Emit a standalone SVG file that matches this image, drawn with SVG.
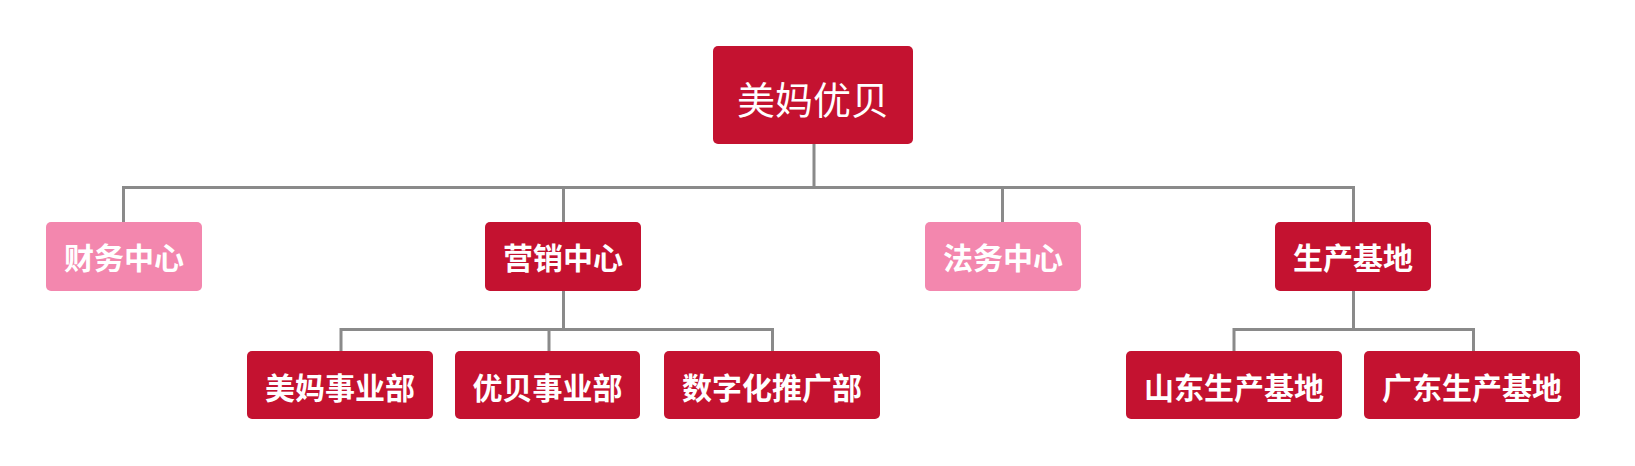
<svg xmlns="http://www.w3.org/2000/svg" width="1635" height="466" viewBox="0 0 1635 466">
<style>
.red{fill:#C41230}
.pink{fill:#F387AE}
.t{fill:#fff;font-family:"Noto Sans CJK SC","Noto Sans",sans-serif;text-anchor:middle;dominant-baseline:central}
.b{font-weight:700;font-size:30px}
.r{font-weight:400;font-size:38px}
.ln{fill:none;stroke:#8a8a8a;stroke-width:3}
</style>
<rect width="1635" height="466" fill="#fff"/>
<g id="connectors">
<path class="ln" d="M814 144V187.5M123.5 222V187.5H1353.5V222M563.5 187.5V222M1002.5 187.5V222"/>
<path class="ln" d="M563.5 291V329.5M341 351V329.5H772.5V351M549 329.5V351"/>
<path class="ln" d="M1353.5 291V329.5M1234 351V329.5H1473.5V351"/>
</g>
<g id="root"><rect class="red" x="713" y="46" width="200" height="98" rx="5"/><text class="t r" x="813" y="97">美妈优贝</text></g>
<g id="caiwu"><rect class="pink" x="46" y="222" width="156" height="69" rx="5"/><text class="t b" x="124" y="256">财务中心</text></g>
<g id="yingxiao"><rect class="red" x="485" y="222" width="156" height="69" rx="5"/><text class="t b" x="563" y="256">营销中心</text></g>
<g id="fawu"><rect class="pink" x="925" y="222" width="156" height="69" rx="5"/><text class="t b" x="1003" y="256">法务中心</text></g>
<g id="shengchan"><rect class="red" x="1275" y="222" width="156" height="69" rx="5"/><text class="t b" x="1353" y="256">生产基地</text></g>
<g id="meima"><rect class="red" x="247" y="351" width="186" height="68" rx="5"/><text class="t b" x="340" y="386">美妈事业部</text></g>
<g id="youbei"><rect class="red" x="455" y="351" width="185" height="68" rx="5"/><text class="t b" x="547.5" y="386">优贝事业部</text></g>
<g id="shuzi"><rect class="red" x="664" y="351" width="216" height="68" rx="5"/><text class="t b" x="772" y="386">数字化推广部</text></g>
<g id="shandong"><rect class="red" x="1126" y="351" width="216" height="68" rx="5"/><text class="t b" x="1234" y="386">山东生产基地</text></g>
<g id="guangdong"><rect class="red" x="1364" y="351" width="216" height="68" rx="5"/><text class="t b" x="1472" y="386">广东生产基地</text></g>
</svg>
